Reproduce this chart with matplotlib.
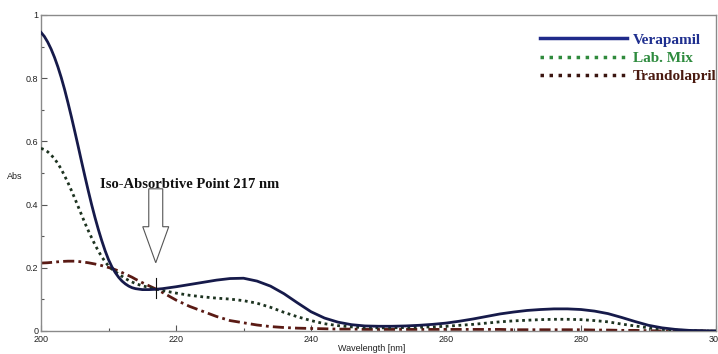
import matplotlib
matplotlib.use("Agg")
import matplotlib.pyplot as plt
from matplotlib.lines import Line2D
from matplotlib.ticker import MultipleLocator, FuncFormatter

# Wavelength grid (nm): fine steps over the steep band edge, coarser afterwards
wavelength = [200, 200.5, 201, 201.5, 202, 202.5, 203, 203.5, 204, 204.5,
              205, 205.5, 206, 206.5, 207, 207.5, 208, 208.5, 209, 209.5,
              210, 210.5, 211, 211.5, 212, 212.5, 213, 213.5, 214,
              215, 216, 217, 218, 219, 220,
              222, 224, 226, 228, 230, 232, 234, 236, 238, 240,
              242, 244, 246, 248, 250,
              252, 254, 256, 258, 260, 262, 264, 266, 268, 270,
              272, 274, 276, 278, 280, 282, 284, 286, 288, 290,
              292, 294, 296, 298, 300]

verapamil = [0.945, 0.932, 0.914, 0.892, 0.866, 0.836, 0.802, 0.764, 0.722, 0.678,
             0.632, 0.585, 0.537, 0.490, 0.444, 0.400, 0.359, 0.321, 0.286, 0.254,
             0.226, 0.203, 0.185, 0.170, 0.158, 0.149, 0.142, 0.137, 0.134,
             0.131, 0.131, 0.132, 0.134, 0.137, 0.140,
             0.147, 0.154, 0.161, 0.166, 0.167, 0.158, 0.142, 0.118, 0.089, 0.061,
             0.041, 0.028, 0.020, 0.016, 0.015,
             0.015, 0.016, 0.018, 0.021, 0.025, 0.031, 0.038, 0.046, 0.054, 0.060,
             0.065, 0.068, 0.070, 0.070, 0.068, 0.063, 0.055, 0.043, 0.030, 0.018,
             0.010, 0.005, 0.002, 0.001, 0.000]

lab_mix = [0.578, 0.574, 0.567, 0.557, 0.545, 0.530, 0.512, 0.491, 0.469, 0.445,
           0.420, 0.394, 0.368, 0.342, 0.318, 0.295, 0.273, 0.253, 0.235, 0.219,
           0.206, 0.196, 0.188, 0.180, 0.173, 0.166, 0.160, 0.155, 0.150,
           0.143, 0.138, 0.133, 0.128, 0.124, 0.120,
           0.113, 0.108, 0.104, 0.101, 0.096, 0.088, 0.075, 0.059, 0.045, 0.033,
           0.023, 0.017, 0.013, 0.011, 0.010,
           0.010, 0.011, 0.012, 0.013, 0.015, 0.018, 0.021, 0.025, 0.029, 0.032,
           0.034, 0.036, 0.037, 0.037, 0.036, 0.033, 0.029, 0.022, 0.016, 0.010,
           0.005, 0.003, 0.001, 0.000, 0.000]

trandolapril = [0.215, 0.2155, 0.216, 0.217, 0.218, 0.219, 0.220, 0.2205, 0.221, 0.221,
                0.221, 0.220, 0.219, 0.2175, 0.216, 0.214, 0.212, 0.2095, 0.207, 0.204,
                0.201, 0.198, 0.194, 0.190, 0.185, 0.180, 0.175, 0.170, 0.164,
                0.153, 0.143, 0.133, 0.122, 0.110, 0.098,
                0.078, 0.062, 0.046, 0.033, 0.026, 0.019, 0.014, 0.011, 0.009, 0.008,
                0.007, 0.006, 0.006, 0.005, 0.005,
                0.005, 0.005, 0.005, 0.005, 0.005, 0.005, 0.005, 0.005, 0.005, 0.004,
                0.004, 0.004, 0.004, 0.004, 0.004, 0.003, 0.003, 0.002, 0.002, 0.001,
                0.000, 0.000, 0.000, 0.000, 0.000]

series_names = ["Verapamil", "Lab. Mix", "Trandolapril"]
iso_point_nm = 217
x_ticks = [200, 220, 240, 260, 280, 300]
y_ticks = [0, 0.2, 0.4, 0.6, 0.8, 1]

fig = plt.figure(figsize=(7.18, 3.54), dpi=100)
ax = fig.add_axes([41 / 718, 23 / 354, 675 / 718, 316 / 354])

ax.plot(wavelength, trandolapril, color="#5a1a14", lw=2.0,
        linestyle=(0, (4, 1.5, 1, 1.5)), zorder=2)
ax.plot(wavelength, lab_mix, color="#1d3320", lw=2.0,
        linestyle=(0, (1, 1.3)), zorder=3)
ax.plot(wavelength, verapamil, color="#161a4a", lw=2.0, zorder=4)

ax.set_xlim(200, 300)
ax.set_ylim(0, 1)
ax.set_xticks(x_ticks)
ax.set_yticks(y_ticks)
ax.xaxis.set_minor_locator(MultipleLocator(10))
ax.yaxis.set_minor_locator(MultipleLocator(0.1))
ax.yaxis.set_major_formatter(FuncFormatter(lambda v, p: f"{v:g}"))
ax.tick_params(which="both", direction="in", labelsize=6.5, colors="#555555",
               labelcolor="#222222", width=0.8)
ax.tick_params(which="major", length=4, pad=2)
ax.tick_params(axis="x", which="major", pad=3)
ax.tick_params(which="minor", length=2.5)
for lbl in ax.get_xticklabels() + ax.get_yticklabels():
    lbl.set_family("Liberation Sans")
for sp in ax.spines.values():
    sp.set_color("#8a8a8a")
    sp.set_linewidth(1.0)

ax.set_xlabel("Wavelength [nm]", fontsize=6.5, family="Liberation Sans", color="#222222")
ax.xaxis.set_label_coords(0.49, -0.054)
ax.xaxis.label.set_verticalalignment("center")
ax.set_ylabel("Abs", fontsize=6.5, family="Liberation Sans", rotation=0, color="#222222")
ax.yaxis.set_label_coords(-0.0385, 0.49)
ax.yaxis.label.set_verticalalignment("center")

# Iso-absorptive point annotation
ax.text(208.7, 0.463, f"Iso-Absorbtive Point {iso_point_nm} nm", fontsize=10.5,
        family="Liberation Serif", fontweight="bold", va="center", ha="left", color="#111111")
ax.arrow(iso_point_nm, 0.45, 0, -0.234, width=2.07, head_width=3.85, head_length=0.114,
         length_includes_head=True, fc="white", ec="#555555", lw=0.8, zorder=5)
ax.plot([iso_point_nm, iso_point_nm], [0.105, 0.168], color="#111111", lw=0.8, zorder=6)

handles = [
    Line2D([], [], color="#1f2a8a", lw=2.5),
    Line2D([], [], color="#2f8a3c", lw=2.5, linestyle=(0, (1, 1.6))),
    Line2D([], [], color="#3a1510", lw=2.5, linestyle=(0, (1, 1.6))),
]
leg = ax.legend(handles, series_names, loc="upper left", bbox_to_anchor=(0.739, 0.943),
                frameon=False, borderpad=0, borderaxespad=0, handlelength=5.7,
                handletextpad=0.4, labelspacing=0.3,
                prop={"family": "Liberation Serif", "weight": "bold", "size": 11},
                labelcolor=["#1f2f8f", "#2e8b3e", "#4a1a10"])

fig.savefig("out.png", dpi=100)
